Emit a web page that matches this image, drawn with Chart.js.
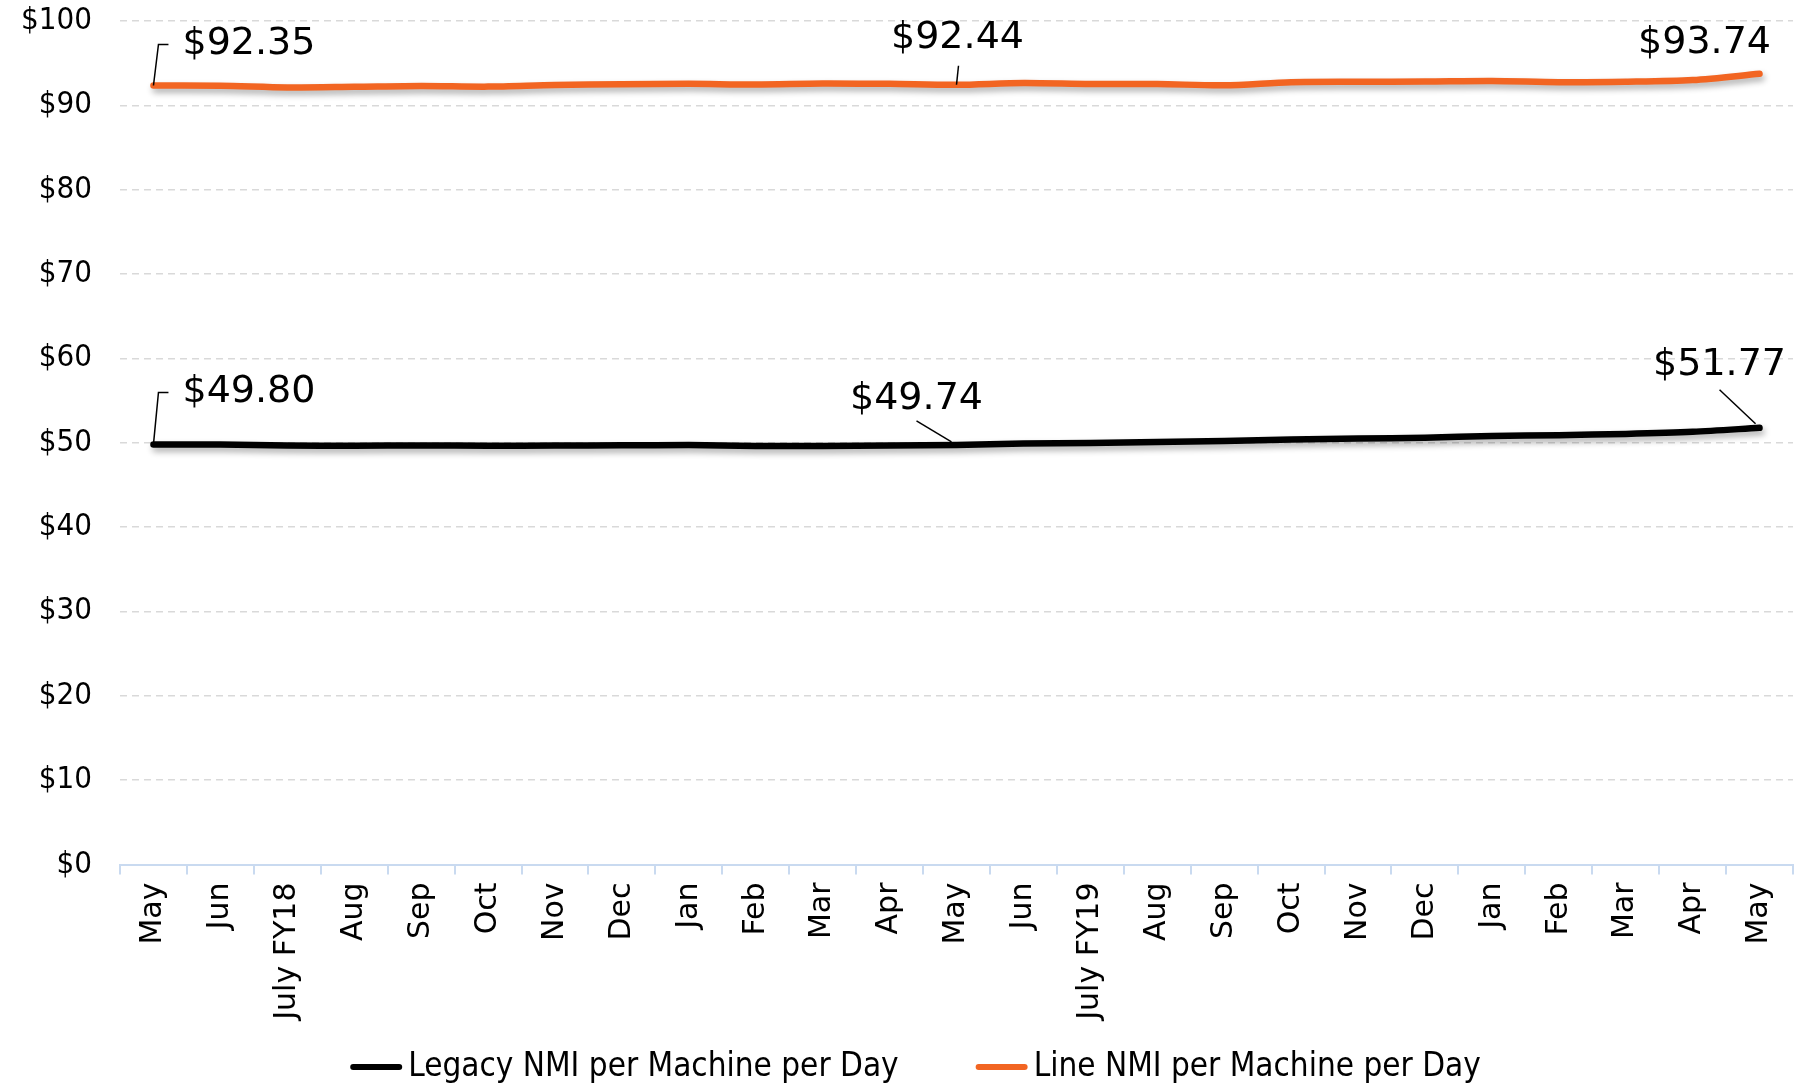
<!DOCTYPE html>
<html>
<head>
<meta charset="utf-8">
<script src="https://cdn.jsdelivr.net/npm/chart.js@4.4.1/dist/chart.umd.min.js"></script>
<style>
  body { margin: 0; background: #fff; }
  canvas { display: block; }
</style>
</head>
<body>
<canvas id="nmi-chart" width="1805" height="1087"></canvas>
<script>
// months, May FY17 .. May FY19
var months = ['May', 'Jun', 'July FY18', 'Aug', 'Sep', 'Oct', 'Nov', 'Dec', 'Jan', 'Feb', 'Mar', 'Apr',
    'May', 'Jun', 'July FY19', 'Aug', 'Sep', 'Oct', 'Nov', 'Dec', 'Jan', 'Feb', 'Mar', 'Apr', 'May'];

var legacyNmi = [49.80, 49.78, 49.66, 49.65, 49.68, 49.65, 49.67, 49.69, 49.72, 49.62, 49.61, 49.68,
    49.74, 49.90, 49.96, 50.10, 50.20, 50.38, 50.50, 50.60, 50.80, 50.90, 51.05, 51.30, 51.77];

var lineNmi = [92.35, 92.33, 92.12, 92.20, 92.30, 92.22, 92.42, 92.50, 92.55, 92.48, 92.60, 92.55,
    92.44, 92.65, 92.52, 92.53, 92.38, 92.75, 92.80, 92.82, 92.88, 92.75, 92.80, 93.00, 93.74];

var yTicks = [0, 10, 20, 30, 40, 50, 60, 70, 80, 90, 100];

// which points get a value label (dataset, index) + where the label sits
var callouts = [
    { ds: 1, i: 0, dx: 29, dy: -41, align: 'left', leader: [[0, 0], [5, -41], [15, -41]] },
    { ds: 1, i: 12, dx: 1, dy: -47, align: 'center', leader: [[0, 0], [2, -19]] },
    { ds: 1, i: 24, dx: -55, dy: -31, align: 'center', leader: null },
    { ds: 0, i: 0, dx: 29, dy: -52, align: 'left', leader: [[0, 0], [5, -52], [15, -52]] },
    { ds: 0, i: 12, dx: -40, dy: -46, align: 'center', leader: [[-5, -3], [-40, -24]] },
    { ds: 0, i: 24, dx: -40, dy: -63, align: 'center', leader: [[-4, -4], [-40, -38]] }
];

var FONT = "'DejaVu Sans', Verdana, sans-serif";
var FONT_NARROW = "'DejaVu Sans Condensed', 'DejaVu Sans', sans-serif";

// soft drop shadow under the lines
var shadowPlugin = {
    id: 'lineShadow',
    beforeDatasetDraw: function (chart) {
        var ctx = chart.ctx;
        ctx.save();
        ctx.shadowColor = 'rgba(0,0,0,0.32)';
        ctx.shadowBlur = 6;
        ctx.shadowOffsetX = 2;
        ctx.shadowOffsetY = 4;
    },
    afterDatasetDraw: function (chart) {
        chart.ctx.restore();
    }
};

// value labels with leader lines
var calloutPlugin = {
    id: 'callouts',
    afterDatasetsDraw: function (chart) {
        var ctx = chart.ctx;
        ctx.save();
        callouts.forEach(function (c) {
            var pt = chart.getDatasetMeta(c.ds).data[c.i];
            var val = chart.data.datasets[c.ds].data[c.i];
            if (c.leader) {
                ctx.beginPath();
                ctx.strokeStyle = '#000';
                ctx.lineWidth = 1.5;
                c.leader.forEach(function (p, k) {
                    if (k === 0) ctx.moveTo(pt.x + p[0], pt.y + p[1]);
                    else ctx.lineTo(pt.x + p[0], pt.y + p[1]);
                });
                ctx.stroke();
            }
            ctx.font = '38px ' + FONT;
            ctx.fillStyle = '#000';
            ctx.textAlign = c.align;
            ctx.textBaseline = 'middle';
            ctx.fillText('$' + val.toFixed(2), pt.x + c.dx, pt.y + c.dy);
        });
        ctx.restore();
    }
};

// legend along the bottom
var legendPlugin = {
    id: 'bottomLegend',
    afterDraw: function (chart) {
        var ctx = chart.ctx;
        var y = 1067;
        var sample = 52, gap = 6, spacing = 77;
        ctx.save();
        ctx.font = '33px ' + FONT_NARROW;
        var widths = chart.data.datasets.map(function (d) { return ctx.measureText(d.label).width; });
        var total = 0;
        widths.forEach(function (w, k) { total += sample + gap + w + (k > 0 ? spacing : 0); });
        var x = chart.width / 2 + 13 - total / 2;
        chart.data.datasets.forEach(function (d, k) {
            ctx.beginPath();
            ctx.strokeStyle = d.borderColor;
            ctx.lineWidth = 6;
            ctx.lineCap = 'round';
            ctx.moveTo(x + 3, y);
            ctx.lineTo(x + sample - 3, y);
            ctx.stroke();
            ctx.fillStyle = '#000';
            ctx.textAlign = 'left';
            ctx.textBaseline = 'middle';
            ctx.fillText(d.label, x + sample + gap, y);
            x += sample + gap + widths[k] + spacing;
        });
        ctx.restore();
    }
};

new Chart(document.getElementById('nmi-chart'), {
    type: 'line',
    data: {
        labels: months,
        datasets: [
            {
                label: 'Legacy NMI per Machine per Day',
                data: legacyNmi,
                borderColor: '#000000',
                backgroundColor: '#000000',
                borderWidth: 6.5,
                borderCapStyle: 'round',
                borderJoinStyle: 'round',
                pointRadius: 0,
                tension: 0.3
            },
            {
                label: 'Line NMI per Machine per Day',
                data: lineNmi,
                borderColor: '#f26522',
                backgroundColor: '#f26522',
                borderWidth: 6.5,
                borderCapStyle: 'round',
                borderJoinStyle: 'round',
                pointRadius: 0,
                tension: 0.3
            }
        ]
    },
    options: {
        responsive: false,
        animation: false,
        layout: {
            autoPadding: false,
            padding: { top: 21, right: 12, bottom: 60, left: 0 }
        },
        plugins: {
            legend: { display: false },
            tooltip: { enabled: false }
        },
        scales: {
            x: {
                offset: true,
                afterFit: function (scale) { scale.height = 162.5; },
                grid: {
                    offset: true,
                    drawOnChartArea: false,
                    drawTicks: true,
                    tickLength: 10,
                    color: '#c9daf0',
                    lineWidth: 2
                },
                border: { display: true, color: '#c9daf0', width: 2 },
                ticks: {
                    autoSkip: false,
                    maxRotation: 90,
                    minRotation: 90,
                    padding: 8,
                    color: '#000',
                    font: { family: FONT, size: 30 }
                }
            },
            y: {
                min: 0,
                max: 100,
                afterFit: function (scale) {
                    scale.width = 120;
                    // tick padding is only meant for x spacing, not top/bottom room
                    scale.paddingTop = 0;
                    scale.paddingBottom = 0;
                },
                afterBuildTicks: function (scale) {
                    scale.ticks = yTicks.map(function (v) { return { value: v }; });
                },
                grid: {
                    drawTicks: false,
                    color: '#d9d9d9',
                    lineWidth: 1.5
                },
                border: { display: false, dash: [7, 5] },
                ticks: {
                    padding: 28,
                    color: '#000',
                    font: { family: FONT_NARROW, size: 31 },
                    callback: function (v) { return '$' + v; }
                }
            }
        }
    },
    plugins: [shadowPlugin, calloutPlugin, legendPlugin]
});
</script>
</body>
</html>
